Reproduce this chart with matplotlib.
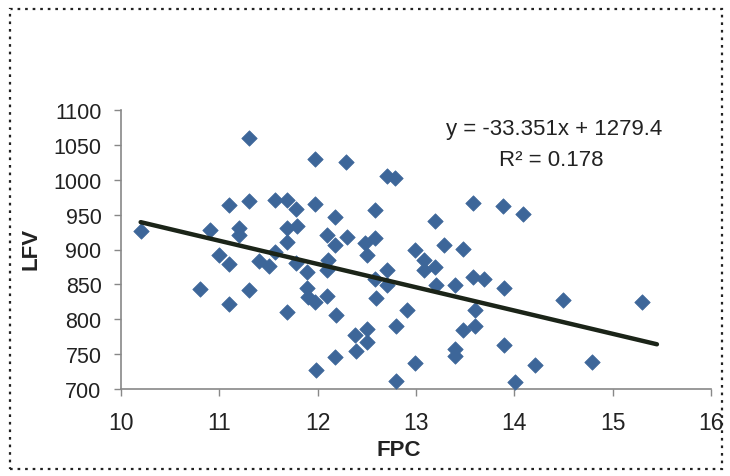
import matplotlib
matplotlib.use("Agg")
import matplotlib.pyplot as plt
from matplotlib.patches import Rectangle

plt.rcParams['font.family'] = ['Liberation Sans', 'DejaVu Sans']

fpc = [10.2, 10.8, 10.9, 11.0, 11.1, 11.1, 11.1, 11.2, 11.2, 11.3, 11.3, 11.3,
       11.4, 11.5, 11.57, 11.57, 11.69, 11.69, 11.69, 11.69, 11.78, 11.79, 11.78,
       11.89, 11.89, 11.90, 11.97, 11.97, 11.97, 11.98, 12.09, 12.09, 12.11, 12.09,
       12.18, 12.18, 12.19, 12.18, 12.29, 12.30, 12.38, 12.39, 12.48, 12.50, 12.50,
       12.50, 12.58, 12.58, 12.58, 12.59, 12.70, 12.70, 12.70, 12.79, 12.80, 12.80,
       12.91, 12.99, 12.99, 13.08, 13.08, 13.19, 13.19, 13.20, 13.28, 13.40, 13.40,
       13.40, 13.48, 13.48, 13.58, 13.58, 13.60, 13.60, 13.69, 13.88, 13.89, 13.89,
       14.01, 14.09, 14.21, 14.49, 14.79, 15.30]
lfv = [926, 844, 928, 892, 879, 964, 822, 931, 921, 1060, 970, 842,
       883, 877, 971, 896, 971, 931, 911, 811, 958, 934, 880,
       868, 845, 832, 1030, 965, 825, 727, 921, 870, 885, 834,
       946, 906, 806, 746, 1025, 918, 777, 755, 910, 892, 786,
       767, 956, 916, 858, 831, 1006, 870, 849, 1003, 790, 712,
       813, 899, 737, 885, 870, 941, 875, 849, 907, 849, 758,
       747, 901, 784, 967, 861, 813, 791, 857, 962, 845, 763,
       710, 951, 735, 828, 739, 825]

slope = -33.351
intercept = 1279.4
r2 = 0.178
trend_x = [10.2, 15.45]

x_ticks = [10, 11, 12, 13, 14, 15, 16]
y_ticks = [700, 750, 800, 850, 900, 950, 1000, 1050, 1100]

fig = plt.figure(figsize=(7.30, 4.77), dpi=100)
fig.patch.set_facecolor('white')

# dotted chart border
border = Rectangle((10/730, 7/477), 712/730, 460/477, transform=fig.transFigure,
                   fill=False, edgecolor='#222222', linewidth=1.6,
                   linestyle=(0, (1.2, 2.2)))
fig.patches.append(border)

ax = fig.add_axes([121/730, 1 - 390/477, 590/730, 279/477])
ax.scatter(fpc, lfv, marker='D', s=62, color='#3d6699', edgecolors='#3d6699',
           linewidths=0.5, zorder=3, clip_on=False)
ty = [slope * v + intercept for v in trend_x]
ax.plot(trend_x, ty, color='#1b2418', linewidth=3.2, solid_capstyle='round', zorder=4)

ax.set_xlim(10, 16)
ax.set_ylim(700, 1100)
ax.set_xticks(x_ticks)
ax.set_yticks(y_ticks)
ax.tick_params(axis='both', color='#888888', length=5, width=1, direction='out')
ax.tick_params(axis='x', labelsize=16.5, pad=11)
ax.tick_params(axis='y', labelsize=15.5, pad=9)
for lbl in ax.get_xticklabels() + ax.get_yticklabels():
    lbl.set_color('#222222')
for s in ['top', 'right']:
    ax.spines[s].set_visible(False)
for s in ['left', 'bottom']:
    ax.spines[s].set_color('#888888')
    ax.spines[s].set_linewidth(1.2)

fig.text(399/730, 1 - 451/477, 'FPC', ha='center', va='center', fontsize=16,
         fontweight='bold', color='#222222')
fig.text(31/730, 1 - 249/477, 'LFV', ha='center', va='center', fontsize=16,
         fontweight='bold', rotation=90, color='#222222')

fig.text(554/730, 1 - 130/477, f'y = {slope}x + {intercept}',
         ha='center', va='center', fontsize=16, color='#222222')
fig.text(551/730, 1 - 161/477, f'R\u00b2 = {r2}',
         ha='center', va='center', fontsize=16, color='#222222')

fig.savefig('out.png', dpi=100, facecolor='white')
